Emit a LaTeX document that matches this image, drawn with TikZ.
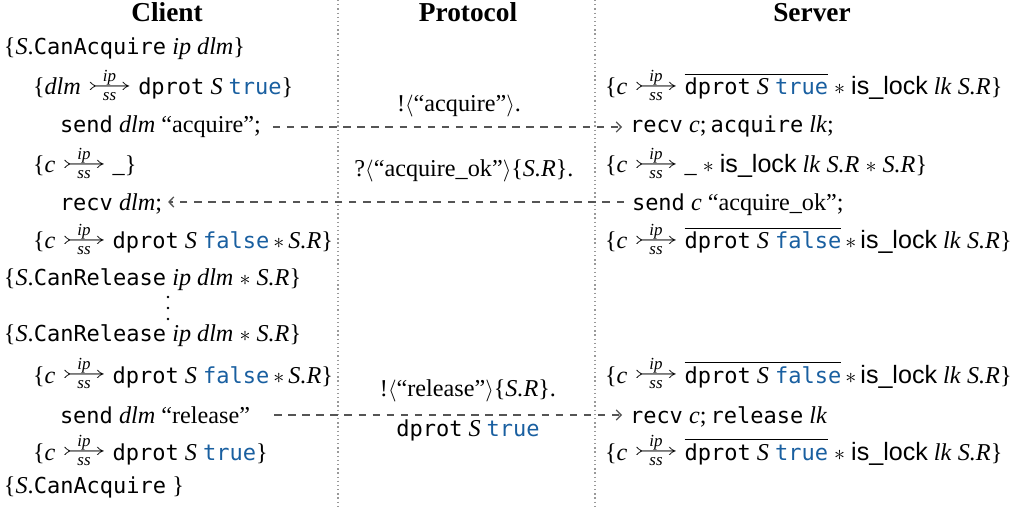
\documentclass[tikz,border=0pt]{standalone}
\usepackage{amsmath,amssymb}
\usepackage{graphicx}
\usepackage{fontspec}
\setmainfont{Liberation Serif}[Scale=1.1]
\setsansfont{Liberation Sans}[Scale=1.14]
\setmonofont{DejaVu Sans Mono}[Scale=1.0]
\usetikzlibrary{arrows.meta,calc}
\definecolor{kwblue}{RGB}{25,95,160}
\definecolor{msggray}{RGB}{85,85,85}

% code, keywords and variables
\newcommand\cd[1]{\texttt{#1}}
\newcommand\kw[1]{\textcolor{kwblue}{\texttt{#1}}}
\newcommand\vr[1]{\textit{#1}}
% channel points-to arrow, ip above and ss below
\newcommand\ptto{\leavevmode\begingroup
  \setbox0=\hbox{\raisebox{1.2pt}{\scalebox{1.85}[1.1]{$\rightarrowtail$}}}%
  \rlap{\hbox to\wd0{\hss\raisebox{6.0pt}{\fontsize{7}{8}\selectfont\textit{ip}}\hss}}%
  \rlap{\hbox to\wd0{\hss\raisebox{-2.4pt}{\fontsize{7}{8}\selectfont\textit{ss}}\hss}}%
  \box0\endgroup}
% separating conjunction, tight and spaced
\newcommand\sepst{\thinspace$\ast$\thinspace}
\newcommand\sepsp{\ $\ast$\ }
\newcommand\islock{\textsf{is\_lock}}
\newcommand\dprotbar[1]{\leavevmode\vbox{\hrule height0.55pt\kern1.4pt
  \hbox{\cd{dprot} \vr{S} \kw{#1}}}}

\begin{document}
\begin{tikzpicture}[x=0.4545pt,y=-0.4545pt,
  every node/.style={inner sep=0pt,outer sep=0pt,font=\fontsize{10}{12}\selectfont},
  line/.style={anchor=base west},
  head/.style={anchor=base,font=\fontsize{11.3}{14}\selectfont\bfseries},
  proto/.style={anchor=base},
  msg/.style={draw=msggray,line width=0.6pt,dash pattern=on 3.4pt off 3pt,
    -{Straight Barb[length=2.2pt,width=4.6pt]}},
  lane/.style={draw=gray!80,line width=0.6pt,dash pattern=on 0.6pt off 1.3pt}]
\useasboundingbox (0,0) rectangle (1029,508);

% lanes
\coordinate (l1t) at (338,0);   \coordinate (l1b) at (338,508);
\coordinate (l2t) at (595,0);   \coordinate (l2b) at (595,508);
\draw[lane] (l1t) -- (l1b);
\draw[lane] (l2t) -- (l2b);

% headings
\node[head] (hclient) at (167,22) {Client};
\node[head] (hproto)  at (468,22) {Protocol};
\node[head] (hserver) at (812,22) {Server};

% client
\node[line] (c1)  at (4,55)   {\{\vr{S}.\cd{CanAcquire} \vr{ip dlm}\}};
\node[line] (c2)  at (33,95)  {\{\vr{dlm} \ptto\ \cd{dprot} \vr{S} \kw{true}\}};
\node[line] (c3)  at (60,133) {\cd{send} \vr{dlm} ``acquire'';};
\node[line] (c4)  at (33,173) {\{\vr{c} \ptto\ \_\}};
\node[line] (c5)  at (60,211) {\cd{recv} \vr{dlm};};
\node[line] (c6)  at (33,249) {\{\vr{c} \ptto\ \cd{dprot} \vr{S} \kw{false}\sepst\vr{S.R}\}};
\node[line] (c7)  at (4,286)  {\{\vr{S}.\cd{CanRelease} \vr{ip dlm}\sepsp\vr{S.R}\}};
\node[line] (c8)  at (4,342)  {\{\vr{S}.\cd{CanRelease} \vr{ip dlm}\sepsp\vr{S.R}\}};
\node[line] (c9)  at (33,383) {\{\vr{c} \ptto\ \cd{dprot} \vr{S} \kw{false}\sepst\vr{S.R}\}};
\node[line] (c10) at (60,423) {\cd{send} \vr{dlm} ``release''};
\node[line] (c11) at (33,460) {\{\vr{c} \ptto\ \cd{dprot} \vr{S} \kw{true}\}};
\node[line] (c12) at (4,493)  {\{\vr{S}.\cd{CanAcquire} \}};

% elided steps between the two CanRelease lines
\foreach \yy in {297,308,319} \fill (168,\yy) circle (1.4);

% protocol
\node[proto] (p1) at (459,112) {!$\langle$``acquire''$\rangle$.};
\node[proto] (p2) at (464,177) {?$\langle$``acquire\_ok''$\rangle$\{\vr{S.R}\}.};
\node[proto] (p3) at (468,397) {!$\langle$``release''$\rangle$\{\vr{S.R}\}.};
\node[proto] (p4) at (468,437) {\cd{dprot} \vr{S} \kw{true}};

% server
\node[line] (s1) at (605,95)  {\{\vr{c} \ptto\ \dprotbar{true}\sepsp\islock\ \vr{lk} \vr{S.R}\}};
\node[line] (s2) at (630,133) {\cd{recv} \vr{c};\,\cd{acquire} \vr{lk};};
\node[line] (s3) at (605,173) {\{\vr{c} \ptto\ \_\sepsp\islock\ \vr{lk} \vr{S.R}\sepsp\vr{S.R}\}};
\node[line] (s4) at (632,211) {\cd{send} \vr{c} ``acquire\_ok'';};
\node[line] (s5) at (605,249) {\{\vr{c} \ptto\ \dprotbar{false}\sepst\islock\ \vr{lk} \vr{S.R}\}};
\node[line] (s6) at (605,383) {\{\vr{c} \ptto\ \dprotbar{false}\sepst\islock\ \vr{lk} \vr{S.R}\}};
\node[line] (s7) at (630,423) {\cd{recv} \vr{c};\,\cd{release} \vr{lk}};
\node[line] (s8) at (605,460) {\{\vr{c} \ptto\ \dprotbar{true}\sepsp\islock\ \vr{lk} \vr{S.R}\}};

% messages
\draw[msg] ($(c3.base east)+(12,-6)$) -- ($(s2.base west)+(-8,-6)$);
\draw[msg] ($(s4.base west)+(-8,-9)$) -- ($(c5.base east)+(6,-9)$);
\draw[msg] ($(c10.base east)+(24,-8)$) -- ($(s7.base west)+(-8,-8)$);
\end{tikzpicture}
\end{document}
